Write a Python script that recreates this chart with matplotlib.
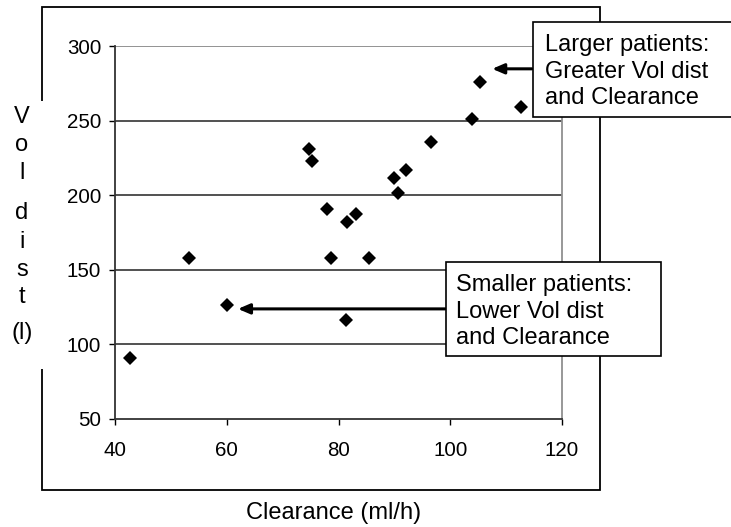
import matplotlib
matplotlib.use("Agg")
import matplotlib.pyplot as plt
from matplotlib.patches import Rectangle

plt.rcParams['font.family'] = ['Liberation Sans', 'DejaVu Sans']

# ---- data ----
clearance = [42.7, 53.3, 60.1, 74.8, 75.2, 77.9, 78.7, 81.4, 81.5, 83.2,
             85.4, 90.0, 90.7, 92.0, 96.5, 103.9, 105.3, 112.6]
vol_dist = [90.7, 157.6, 126.7, 231.2, 223.2, 190.9, 157.6, 116.4, 182.0, 187.4,
            157.6, 211.5, 201.5, 216.6, 235.7, 251.3, 276.0, 259.2]
x_ticks = [40, 60, 80, 100, 120]
y_ticks = [50, 100, 150, 200, 250, 300]
x_label = "Clearance (ml/h)"
y_label_chars = ["V", "o", "l", "d", "i", "s", "t", "(l)"]
note_upper = "Larger patients:\nGreater Vol dist\nand Clearance"
note_lower = "Smaller patients:\nLower Vol dist\nand Clearance"
arrow_upper = {"tip": (107.5, 284.7), "tail": (114.6, 284.7)}
arrow_lower = {"tip": (62.0, 123.8), "tail": (99.1, 123.8)}

W, H = 731, 527
fig = plt.figure(figsize=(W / 100, H / 100), dpi=100)


def fx(px):
    return px / W


def fy(py):
    return 1 - py / H


# outer chart frame
frame = Rectangle((fx(42.3), fy(490)), fx(600) - fx(42.3), fy(7.3) - fy(490),
                  transform=fig.transFigure, fill=False, edgecolor='black',
                  lw=1.3, zorder=0)
fig.add_artist(frame)
# white background behind the y label (interrupts frame)
fig.add_artist(Rectangle((fx(5), fy(369)), fx(50) - fx(5), fy(101) - fy(369),
                         transform=fig.transFigure, facecolor='white',
                         edgecolor='none', zorder=1))

ax = fig.add_axes([fx(115), fy(419), fx(562) - fx(115), fy(46) - fy(419)])
ax.set_zorder(2)
ax.patch.set_alpha(0)
ax.set_xlim(40, 120)
ax.set_ylim(50, 300)
ax.set_xticks(x_ticks)
ax.set_yticks(y_ticks)
ax.tick_params(axis='both', direction='out', length=4.5, width=1,
               labelsize=14.8, colors='black')
ax.tick_params(axis='y', pad=5.5)
ax.tick_params(axis='x', pad=11)
for yv in y_ticks[1:]:
    ax.axhline(yv, color='#808080' if yv == 300 else '#333333',
               lw=1.2, zorder=1)
for side in ['left', 'bottom']:
    ax.spines[side].set_color('#333333')
    ax.spines[side].set_linewidth(1.3)
ax.spines['top'].set_visible(False)
ax.spines['right'].set_color('#909090')
ax.spines['right'].set_linewidth(1.3)

ax.plot(clearance, vol_dist, linestyle='none', marker='D', markersize=6.8,
        color='black', markeredgewidth=0, zorder=3, clip_on=False)

# arrows
for arr in (arrow_upper, arrow_lower):
    ax.annotate('', xy=arr["tip"], xytext=arr["tail"], xycoords='data',
                textcoords='data', annotation_clip=False,
                arrowprops=dict(arrowstyle='-|>,head_length=0.7,head_width=0.3',
                                lw=2.2, color='black', shrinkA=0, shrinkB=0,
                                mutation_scale=10), zorder=4)

# annotation boxes
fig.add_artist(Rectangle((fx(533.3), fy(116.7)), fx(740) - fx(533.3),
                         fy(21.7) - fy(116.7), transform=fig.transFigure,
                         facecolor='white', edgecolor='black', lw=1.2, zorder=5))
fig.text(fx(545), fy(71.5), note_upper, fontsize=17, ha='left', va='center',
         linespacing=1.28, zorder=6)
fig.add_artist(Rectangle((fx(446), fy(356)), fx(661) - fx(446),
                         fy(261.7) - fy(356), transform=fig.transFigure,
                         facecolor='white', edgecolor='black', lw=1.2, zorder=5))
fig.text(fx(456), fy(311.5), note_lower, fontsize=17, ha='left', va='center',
         linespacing=1.28, zorder=6)

# axis labels
fig.text(fx(334), fy(513), x_label, fontsize=17, ha='center', va='center')
y_pos = [117, 145, 173, 213, 242, 270, 297, 333]
for ch, yp in zip(y_label_chars, y_pos):
    fig.text(fx(22), fy(yp), ch, fontsize=17, ha='center', va='center', zorder=3)

fig.savefig("out.png", dpi=100, facecolor='white')
